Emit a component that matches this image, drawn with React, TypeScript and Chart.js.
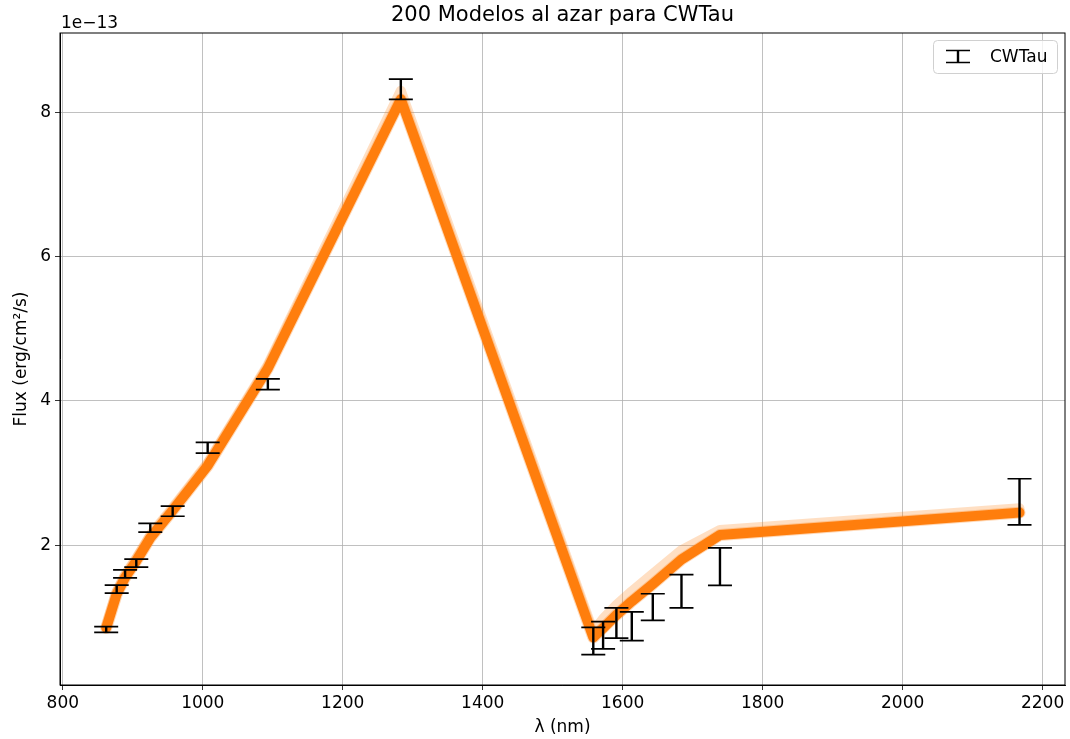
import React, { useEffect, useRef } from 'react';
import { Chart, registerables } from 'chart.js';

Chart.register(...registerables);

// ---- data (flux in units of 1e-13 erg/cm^2/s) ----
const TITLE = '200 Modelos al azar para CWTau';
const SERIES_NAME = 'CWTau';
const X_LABEL = 'λ (nm)';
const Y_LABEL = 'Flux (erg/cm²/s)';
const Y_EXPONENT = '1e\u221213';

const wavelengths = [862, 877, 889, 905, 925, 957, 1007, 1093, 1283, 1558, 1572, 1591, 1613, 1643, 1684, 1739, 2167];
const fluxObs = [0.83, 1.39, 1.6, 1.75, 2.24, 2.47, 3.35, 4.23, 8.32, 0.67, 0.75, 0.92, 0.875, 1.14, 1.36, 1.7, 2.6];
const fluxErr = [0.04, 0.055, 0.055, 0.055, 0.06, 0.07, 0.075, 0.074, 0.14, 0.19, 0.19, 0.21, 0.2, 0.185, 0.23, 0.26, 0.32];
const modelFlux = [0.85, 1.32, 1.55, 1.78, 2.1, 2.48, 3.1, 4.45, 8.18, 0.72, 0.85, 1.03, 1.22, 1.46, 1.8, 2.14, 2.45];
const modelUpper = [0.88, 1.36, 1.59, 1.82, 2.14, 2.52, 3.14, 4.5, 8.3, 0.8, 0.98, 1.17, 1.36, 1.6, 1.93, 2.21, 2.51];

const xTicks = [800, 1000, 1200, 1400, 1600, 1800, 2000, 2200];
const yTicks = [2, 4, 6, 8];
const xRange = [796, 2232];
const yRange = [0.06, 9.1];

const FONT = "'DejaVu Sans', sans-serif";
const ORANGE = '#ff7f0e';

const decor = {
  id: 'decor',
  afterDatasetsDraw(chart: any) {
    const { ctx, chartArea: a, scales } = chart;
    const x = scales.x;
    const y = scales.y;
    ctx.save();
    ctx.strokeStyle = '#000';
    wavelengths.forEach((w, i) => {
      const px = x.getPixelForValue(w);
      const top = y.getPixelForValue(fluxObs[i] + fluxErr[i]);
      const bot = y.getPixelForValue(fluxObs[i] - fluxErr[i]);
      ctx.lineWidth = 2.4;
      ctx.beginPath();
      ctx.moveTo(px, top);
      ctx.lineTo(px, bot);
      ctx.stroke();
      ctx.lineWidth = 1.7;
      ctx.beginPath();
      ctx.moveTo(px - 12, top);
      ctx.lineTo(px + 12, top);
      ctx.moveTo(px - 12, bot);
      ctx.lineTo(px + 12, bot);
      ctx.stroke();
    });
    // frame
    ctx.lineWidth = 1;
    ctx.strokeStyle = '#000';
    ctx.strokeRect(a.left, a.top, a.right - a.left, a.bottom - a.top);
    ctx.restore();
  },
  afterDraw(chart: any) {
    const { ctx, chartArea: a } = chart;
    ctx.save();
    ctx.fillStyle = '#000';
    // title
    ctx.font = `21px ${FONT}`;
    ctx.textAlign = 'center';
    ctx.textBaseline = 'middle';
    ctx.fillText(TITLE, (a.left + a.right) / 2, 16);
    // exponent
    ctx.font = `17px ${FONT}`;
    ctx.textAlign = 'left';
    ctx.textBaseline = 'alphabetic';
    ctx.fillText(Y_EXPONENT, a.left + 1, 28);
    // legend
    const lx = a.right - 132;
    const ly = a.top + 7;
    const lw = 124;
    const lh = 33;
    ctx.fillStyle = 'rgba(255,255,255,0.8)';
    ctx.strokeStyle = '#d0d0d0';
    ctx.lineWidth = 1;
    ctx.beginPath();
    (ctx as any).roundRect(lx + 0.5, ly + 0.5, lw, lh, 4);
    ctx.fill();
    ctx.stroke();
    const gx = lx + 25;
    const gy = ly + lh / 2;
    ctx.strokeStyle = '#000';
    ctx.lineWidth = 2.4;
    ctx.beginPath();
    ctx.moveTo(gx, gy - 6);
    ctx.lineTo(gx, gy + 6);
    ctx.stroke();
    ctx.lineWidth = 1.7;
    ctx.beginPath();
    ctx.moveTo(gx - 12, gy - 6);
    ctx.lineTo(gx + 12, gy - 6);
    ctx.moveTo(gx - 12, gy + 6);
    ctx.lineTo(gx + 12, gy + 6);
    ctx.stroke();
    ctx.fillStyle = '#000';
    ctx.font = `17px ${FONT}`;
    ctx.textBaseline = 'middle';
    ctx.fillText(SERIES_NAME, lx + 57, gy + 1);
    ctx.restore();
  },
};

export default function App() {
  const ref = useRef<HTMLCanvasElement>(null);
  useEffect(() => {
    if (!ref.current) return;
    const tickFont = { family: FONT, size: 17 };
    const chart = new Chart(ref.current, {
      type: 'line',
      data: {
        datasets: [
          {
            label: 'spread',
            data: wavelengths.map((w, i) => ({ x: w, y: modelUpper[i] })),
            borderColor: 'rgba(255,127,14,0.25)',
            borderWidth: 10,
            pointRadius: 0,
            borderJoinStyle: 'round',
            borderCapStyle: 'round',
            tension: 0,
          },
          {
            label: 'halo',
            data: wavelengths.map((w, i) => ({ x: w, y: modelFlux[i] })),
            borderColor: 'rgba(255,127,14,0.3)',
            borderWidth: 12,
            pointRadius: 0,
            borderJoinStyle: 'round',
            borderCapStyle: 'round',
            tension: 0,
          },
          {
            label: 'models',
            data: wavelengths.map((w, i) => ({ x: w, y: modelFlux[i] })),
            borderColor: ORANGE,
            borderWidth: 10,
            pointRadius: 0,
            borderJoinStyle: 'round',
            borderCapStyle: 'round',
            tension: 0,
          },
        ],
      },
      options: {
        responsive: false,
        animation: false,
        layout: { padding: { top: 33, right: 5, left: 0, bottom: 0 } },
        plugins: { legend: { display: false }, tooltip: { enabled: false }, title: { display: false } },
        scales: {
          x: {
            type: 'linear',
            min: xRange[0],
            max: xRange[1],
            afterBuildTicks: (axis: any) => {
              axis.ticks = xTicks.map((v) => ({ value: v }));
            },
            afterFit: (s: any) => {
              s.height = 54;
            },
            ticks: {
              font: tickFont,
              color: '#000',
              padding: 3,
              maxRotation: 0,
              autoSkip: false,
              callback: (v: any) => String(v),
            },
            grid: { color: '#b0b0b0', lineWidth: 0.8, tickColor: '#000', tickLength: 5 },
            border: { display: true, color: '#000', width: 1 },
            title: { display: true, text: X_LABEL, font: tickFont, color: '#000', padding: { top: 0, bottom: 1 } },
          },
          y: {
            type: 'linear',
            min: yRange[0],
            max: yRange[1],
            afterBuildTicks: (axis: any) => {
              axis.ticks = yTicks.map((v) => ({ value: v }));
            },
            afterFit: (s: any) => {
              s.width = 60;
            },
            ticks: { font: tickFont, color: '#000', padding: 4, callback: (v: any) => String(v) },
            grid: { color: '#b0b0b0', lineWidth: 0.8, tickColor: '#000', tickLength: 5 },
            border: { display: true, color: '#000', width: 1 },
            title: { display: true, text: Y_LABEL, font: tickFont, color: '#000', padding: { top: 11, bottom: 0 } },
          },
        },
      },
      plugins: [decor],
    } as any);
    return () => chart.destroy();
  }, []);
  return (
    <div style={{ position: 'absolute', left: 0, top: 0, width: 1070, height: 739, background: '#fff' }}>
      <canvas ref={ref} width={1070} height={739} style={{ display: 'block' }} />
    </div>
  );
}
